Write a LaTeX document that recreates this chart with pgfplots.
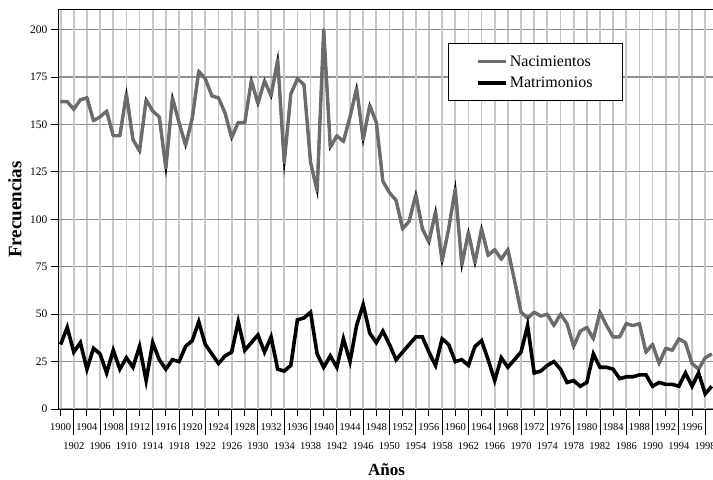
\documentclass[border=0pt]{standalone}
\usepackage{fontspec}
\setmainfont{Liberation Serif}
\usepackage{pgfplots}
\pgfplotsset{compat=1.18}
\usepackage{pgfplotstable}

\definecolor{nacgray}{RGB}{108,108,108}
\definecolor{vgrid}{RGB}{198,198,198}
\definecolor{hgrid}{RGB}{145,145,145}

% anio, nacimientos, matrimonios
\pgfplotstableread{
anio nac mat
1900 162 34
1901 162 43
1902 158 30
1903 163 35
1904 164 21
1905 152 32
1906 154 29
1907 157 19
1908 144 31
1909 144 21
1910 166 27
1911 142 22
1912 136 33
1913 163 15
1914 157 35
1915 154 26
1916 127 21
1917 164 26
1918 151 25
1919 139 33
1920 153 36
1921 178 46
1922 174 34
1923 165 29
1924 164 24
1925 156 28
1926 143 30
1927 151 46
1928 151 31
1929 173 35
1930 161 39
1931 173 30
1932 165 38
1933 184 21
1934 130 20
1935 166 23
1936 174 47
1937 171 48
1938 130 51
1939 115 29
1940 200 22
1941 138 28
1942 144 22
1943 141 37
1944 154 25
1945 169 44
1946 142 55
1947 160 40
1948 151 35
1949 120 41
1950 114 34
1951 110 26
1952 95 30
1953 99 34
1954 113 38
1955 95 38
1956 88 30
1957 104 23
1958 78 37
1959 95 34
1960 116 25
1961 76 26
1962 93 23
1963 77 33
1964 95 36
1965 81 26
1966 84 15
1967 79 27
1968 84 22
1969 68 26
1970 51 30
1971 48 44
1972 51 19
1973 49 20
1974 50 23
1975 44 25
1976 50 21
1977 45 14
1978 33 15
1979 41 12
1980 43 14
1981 37 29
1982 51 22
1983 44 22
1984 38 21
1985 38 16
1986 45 17
1987 44 17
1988 45 18
1989 30 18
1990 34 12
1991 24 14
1992 32 13
1993 31 13
1994 37 12
1995 35 19
1996 24 12
1997 21 19
1998 27 8
1999 29 12
}\datos

\begin{document}
\begin{tikzpicture}
\begin{axis}[
  scale only axis,
  width=657pt, height=399pt,
  xmin=1899.6, xmax=1999.5,
  ymin=0, ymax=210.3,
  axis line style={line width=1pt},
  tick pos=left,
  tick align=outside,
  major tick length=7pt,
  minor tick length=0pt,
  tick style={black, line width=0.9pt},
  xtick={1900,1904,...,1996},
  minor x tick num=3,
  extra x ticks={1902,1906,...,1998},
  extra x tick style={major tick length=26pt},
  ytick={0,25,...,200},
  /pgf/number format/1000 sep={},
  /pgf/number format/assume math mode=true,
  xticklabel style={font=\fontsize{10.5}{12}\selectfont, yshift=-4pt},
  yticklabel style={font=\fontsize{11.5}{13}\selectfont},
  xmajorgrids, xminorgrids, ymajorgrids,
  x grid style={vgrid, line width=1.8pt},
  minor x grid style={vgrid, line width=1.8pt},
  y grid style={hgrid, line width=1.2pt},
  xlabel={Años},
  ylabel={Frecuencias},
  xlabel style={font=\bfseries\fontsize{17}{20}\selectfont,
    at={(axis description cs:0.5,-0.153)}, anchor=center},
  ylabel style={font=\bfseries\fontsize{19}{22}\selectfont,
    at={(axis description cs:-0.0655,0.5)}, anchor=center},
  legend style={at={(axis description cs:0.860,0.917)}, anchor=north east,
    draw=black, line width=1pt, fill=white,
    font=\fontsize{16}{19}\selectfont,
    inner xsep=28pt, inner ysep=10pt, row sep=5pt},
  legend cell align=left,
  legend image code/.code={\draw[#1] (0pt,0pt) -- (28pt,0pt);},
]
\addplot[black, line width=2.4pt, line join=miter, miter limit=20, forget plot]
  table[x=anio, y=nac]{\datos};
\addplot[nacgray, line width=3.4pt, line join=round]
  table[x=anio, y=nac]{\datos};
\addplot[black, line width=3.6pt, line join=miter, miter limit=6]
  table[x=anio, y=mat]{\datos};
\legend{Nacimientos, Matrimonios}
\coordinate (bbsw) at (axis cs:1890.78,-36.9);
\coordinate (bbne) at (axis cs:1999.19,215.57);
\end{axis}
\pgfresetboundingbox
\path[use as bounding box] (bbsw) rectangle (bbne);
\end{tikzpicture}
\end{document}
